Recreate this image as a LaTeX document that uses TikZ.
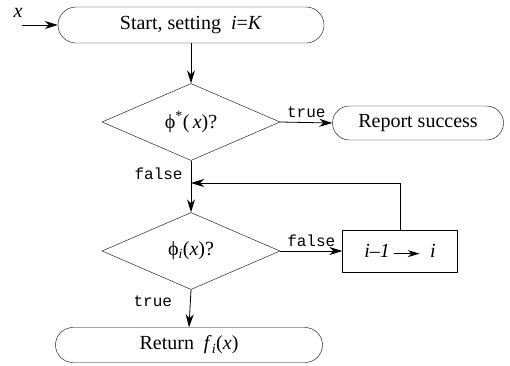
\documentclass[tikz,border=0pt]{standalone}
\usepackage{fontspec}
\setmainfont{Liberation Serif}
\setmonofont{Liberation Mono}
\usetikzlibrary{shapes.geometric,shapes.misc,arrows.meta}
\tikzset{
  every node/.style={font=\fontsize{20}{24}\selectfont},
  term/.style={draw, rounded rectangle, inner sep=0pt},
  test/.style={draw, diamond, inner sep=0pt, minimum width=178pt, minimum height=77pt, aspect=2.3},
  proc/.style={draw, rectangle, inner sep=0pt, minimum width=115pt, minimum height=42pt},
  lab/.style={font=\fontsize{16}{18}\ttfamily, inner sep=0pt},
  arr/.style={-{Stealth[length=13pt,width=8pt,inset=4pt]}, line width=0.8pt},
  line width=0.8pt
}
\begin{document}
\begin{tikzpicture}[x=1pt,y=-1pt]
\useasboundingbox (0,0) rectangle (510,365);
\node[term, minimum width=266pt, minimum height=36pt] (start) at (191,25) {Start, setting \ \textit{i}=\textit{K}};
\node[inner sep=0pt] (xl) at (18,13) {\textit{x}};
\coordinate (xin) at (22,25);
\node[test] (d1) at (191,122) {ϕ\textsuperscript{*}(\,\textit{x})?};
\node[term, minimum width=171pt, minimum height=34pt] (rep) at (418,123) {Report success};
\node[test] (d2) at (191,251) {ϕ\textsubscript{\textit{i}}(\textit{x})?};
\node[proc] (box) at (400,251) {\textit{i}–\textit{1}\,\tikz[baseline=-4pt,x=1pt,y=1pt]\draw[-{Stealth[length=12pt,width=7pt,inset=4pt]},line width=0.8pt] (0,0)--(26,0);\ \ \textit{i}};
\node[term, minimum width=267pt, minimum height=35pt] (ret) at (189,345) {Return \ \textit{f}\textsubscript{\textit{i}}(\textit{x})};
\coordinate (join) at (191,183);

\draw[arr] (xin) -- (start.west);
\draw[arr] (start.south) -- (d1.north);
\draw[arr] (d1.east) -- (rep.west) node[lab, midway, above=4pt] {true};
\draw[arr] (d1.south) -- (d2.north) node[lab, pos=0.25, left=8pt] {false};
\draw[arr] (d2.east) -- (box.west) node[lab, midway, above=4pt] {false};
\draw[arr] (box.north) |- (join);
\draw[arr] (d2.south) -- (ret.north) node[lab, pos=0.3, left=18pt] {true};
\end{tikzpicture}
\end{document}
